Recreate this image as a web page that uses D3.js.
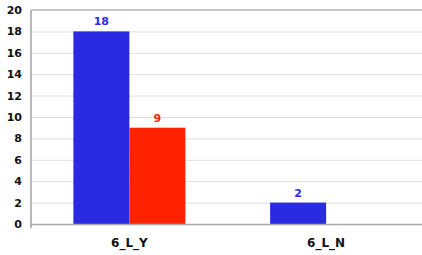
<!DOCTYPE html>
<html lang="en">
<head>
<meta charset="UTF-8">
<script src="https://cdnjs.cloudflare.com/ajax/libs/d3/7.8.5/d3.min.js"></script>
<style>
  body { margin: 0; background: #fff; }
  text { font-family: "DejaVu Sans", Verdana, sans-serif; font-weight: bold; }
</style>
</head>
<body>
<svg id="chart" width="422" height="255"></svg>
<script>
const categories = ['6_L_Y', '6_L_N'];
const seriesNames = ['blue', 'red'];
const blueValues = [18, 2];
const redValues = [9, 0];
const colors = ['#2a2ae2', '#ff2200'];
const yTicks = [0, 2, 4, 6, 8, 10, 12, 14, 16, 18, 20];

const svg = d3.select('#chart');
const plotLeft = 31, plotRight = 424.5, plotTop = 10, plotBottom = 224;

const x0 = d3.scalePoint().domain(categories).range([plotLeft, plotRight]).padding(0.5);
const groupW = 112;
const x1 = d3.scaleBand().domain(seriesNames).range([0, groupW]);
const y = d3.scaleLinear().domain([0, 20]).range([plotBottom, plotTop]);

// gridlines
svg.append('g')
  .selectAll('line')
  .data(yTicks.filter(t => t > 0 && t < 20))
  .enter().append('line')
  .attr('x1', plotLeft).attr('x2', 422)
  .attr('y1', d => y(d) + 0.5).attr('y2', d => y(d) + 0.5)
  .style('stroke', '#dedede');

// top border
svg.append('line')
  .attr('x1', plotLeft).attr('x2', 422)
  .attr('y1', y(20)).attr('y2', y(20))
  .style('stroke', '#c4c4c4').style('stroke-width', 2);

// y axis labels
svg.append('g')
  .selectAll('text')
  .data(yTicks)
  .enter().append('text')
  .attr('x', 22)
  .attr('y', d => y(d) + 4)
  .attr('text-anchor', 'end')
  .style('font-size', '11px')
  .style('fill', '#111')
  .text(d => d);

// bars
const data = categories.map((c, i) => ({
  cat: c,
  values: [blueValues[i], redValues[i]]
}));

const group = svg.append('g')
  .selectAll('g')
  .data(data)
  .enter().append('g')
  .attr('transform', d => 'translate(' + (x0(d.cat) - groupW / 2) + ',0)');

group.selectAll('rect')
  .data(d => d.values.map((v, j) => ({ s: seriesNames[j], v: v, j: j })))
  .enter().append('rect')
  .attr('x', d => x1(d.s))
  .attr('width', x1.bandwidth())
  .attr('y', d => y(d.v))
  .attr('height', d => plotBottom - y(d.v))
  .style('fill', d => colors[d.j]);

group.selectAll('text')
  .data(d => d.values.map((v, j) => ({ s: seriesNames[j], v: v, j: j })).filter(d => d.v > 0))
  .enter().append('text')
  .attr('x', d => x1(d.s) + x1.bandwidth() / 2)
  .attr('y', d => y(d.v) - 6)
  .attr('text-anchor', 'middle')
  .style('font-size', '11px')
  .style('fill', d => colors[d.j])
  .text(d => d.v);

// left and bottom axis lines
svg.append('line')
  .attr('x1', plotLeft).attr('x2', plotLeft)
  .attr('y1', plotTop).attr('y2', plotBottom + 4)
  .style('stroke', '#b8b8b8').style('stroke-width', 2);
svg.append('line')
  .attr('x1', plotLeft).attr('x2', 422)
  .attr('y1', plotBottom + 0.5).attr('y2', plotBottom + 0.5)
  .style('stroke', '#a8a8a8').style('stroke-width', 1.5);

// category labels
svg.append('g')
  .selectAll('text')
  .data(categories)
  .enter().append('text')
  .attr('x', x0)
  .attr('y', 247)
  .attr('text-anchor', 'middle')
  .style('font-size', '12px')
  .style('fill', '#111')
  .text(d => d);
</script>
</body>
</html>
